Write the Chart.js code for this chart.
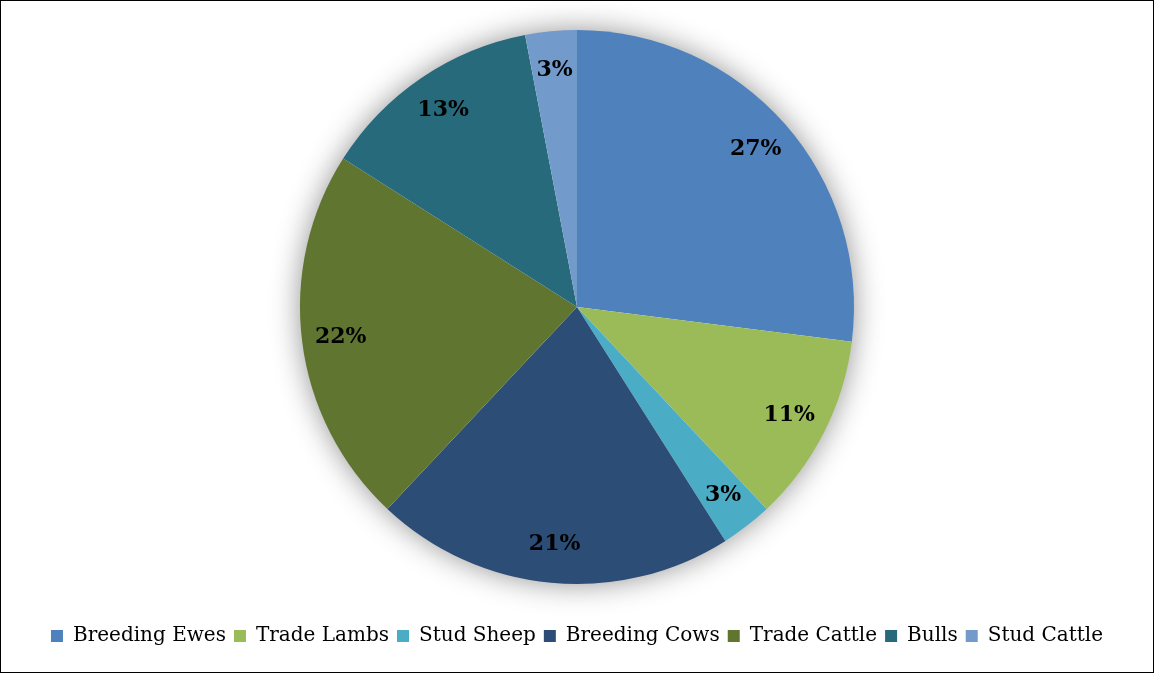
<!DOCTYPE html>
<html>
<head>
<meta charset="utf-8">
<script src="https://cdn.jsdelivr.net/npm/chart.js@4/dist/chart.umd.min.js"></script>
<style>
  html, body { margin: 0; padding: 0; background: #fff; }
  #wrap { width: 1154px; height: 673px; box-sizing: border-box; border: 1px solid #000; position: relative; }
  canvas { display: block; }
</style>
</head>
<body>
<div id="wrap"><canvas id="pie" width="1152" height="671"></canvas></div>
<script>
const categories = ['Breeding Ewes', 'Trade Lambs', 'Stud Sheep', 'Breeding Cows', 'Trade Cattle', 'Bulls', 'Stud Cattle'];
const shares = [27, 11, 3, 21, 22, 13, 3];
const sliceColors = ['#4F81BD', '#9BBB59', '#4BACC6', '#2C4D75', '#5F7530', '#276A7C', '#729ACA'];

// soft halo behind the whole pie
const pieShadow = {
  id: 'pieShadow',
  beforeDatasetsDraw(chart) {
    const arc = chart.getDatasetMeta(0).data[0];
    if (!arc) return;
    const ctx = chart.ctx;
    ctx.save();
    ctx.shadowColor = 'rgba(0,0,0,0.45)';
    ctx.shadowBlur = 30;
    ctx.fillStyle = '#fff';
    ctx.beginPath();
    ctx.arc(arc.x, arc.y, arc.outerRadius - 1, 0, Math.PI * 2);
    ctx.fill();
    ctx.restore();
  }
};

// percentage labels near the outer edge of each slice
const sliceLabels = {
  id: 'sliceLabels',
  afterDatasetsDraw(chart) {
    const ctx = chart.ctx;
    const values = chart.data.datasets[0].data;
    const total = values.reduce((a, b) => a + b, 0);
    ctx.save();
    ctx.font = 'bold 22px "DejaVu Serif"';
    ctx.fillStyle = '#000';
    ctx.textAlign = 'center';
    ctx.textBaseline = 'middle';
    chart.getDatasetMeta(0).data.forEach((arc, i) => {
      const mid = (arc.startAngle + arc.endAngle) / 2;
      const r = arc.outerRadius * 0.86;
      const pct = Math.round(values[i] / total * 100) + '%';
      ctx.fillText(pct, arc.x + Math.cos(mid) * r, arc.y + Math.sin(mid) * r);
    });
    ctx.restore();
  }
};

new Chart(document.getElementById('pie'), {
  type: 'pie',
  data: {
    labels: categories,
    datasets: [{
      data: shares,
      backgroundColor: sliceColors,
      borderWidth: 0
    }]
  },
  options: {
    responsive: false,
    animation: false,
    layout: { padding: { top: 29, bottom: 16 } },
    plugins: {
      tooltip: { enabled: false },
      legend: {
        position: 'bottom',
        // empty title only adds space between the pie and the legend row
        title: { display: true, text: ' ', font: { size: 10 }, padding: 11 },
        labels: {
          color: '#000',
          font: { family: '"DejaVu Serif"', size: 20 },
          boxWidth: 12,
          boxHeight: 12,
          padding: 8
        }
      }
    }
  },
  plugins: [pieShadow, sliceLabels]
});
</script>
</body>
</html>
